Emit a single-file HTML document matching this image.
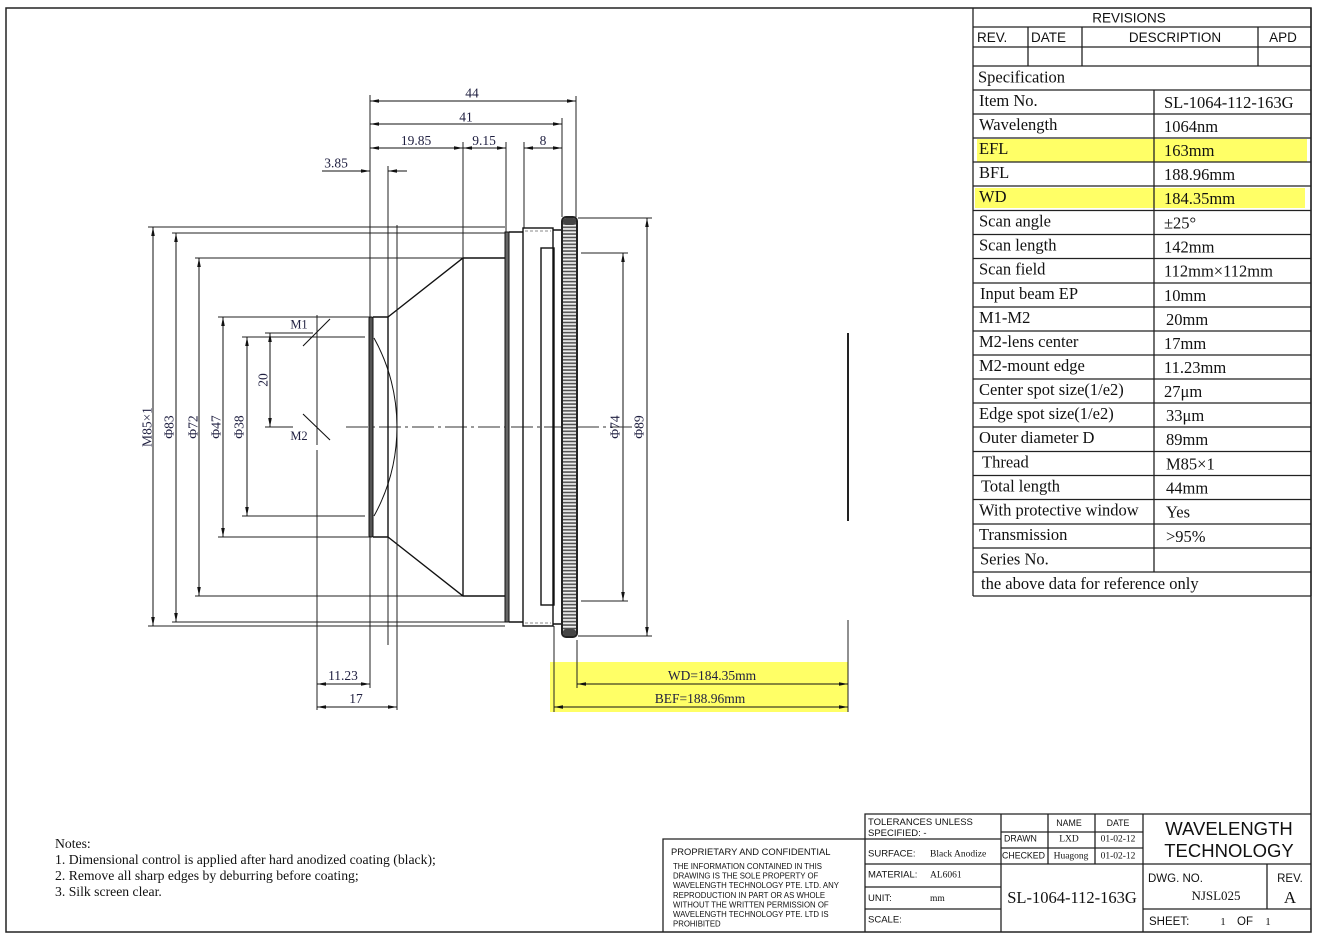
<!DOCTYPE html>
<html><head><meta charset="utf-8"><style>
html,body{margin:0;padding:0;background:#fff;}
svg{display:block;}
.s{font-family:"Liberation Serif",serif;}
.a{font-family:"Liberation Sans",sans-serif;}
</style></head><body>
<svg width="1319" height="940" viewBox="0 0 1319 940" xmlns="http://www.w3.org/2000/svg">
<defs>
<marker id="ar" viewBox="0 0 10 4" refX="10" refY="2" markerWidth="9" markerHeight="4" markerUnits="userSpaceOnUse" orient="auto-start-reverse"><path d="M0,0L10,2L0,4z" fill="#111"/></marker>
<pattern id="kn" x="0" y="217" width="15" height="3.4" patternUnits="userSpaceOnUse"><rect width="15" height="3.4" fill="#4a4a4a"/><rect x="0" y="0.8" width="15" height="1.9" fill="#eeeeee"/></pattern>
</defs>
<rect width="1319" height="940" fill="#fff"/>

<!-- yellow highlights -->
<rect x="977" y="139" width="330" height="23" fill="#ffff66"/>
<rect x="975" y="188" width="330" height="20" fill="#ffff66"/>
<rect x="550" y="662" width="298" height="50" fill="#ffff66"/>

<!-- frame -->
<rect x="6" y="8" width="1305" height="924" fill="none" stroke="#222" stroke-width="1.5"/>

<!-- revisions + spec table lines -->
<g stroke="#222" stroke-width="1.3" fill="none">
<path d="M973,8V596M1311,8V596"/>
<path d="M973,27H1311M973,47H1311M973,66H1311"/>
<path d="M1028,27V66M1082,27V66M1258,27V66"/>
<path d="M973,90H1311M973,114H1311M973,138H1311M973,162H1311M973,186H1311M973,210.5H1311M973,234.5H1311M973,258.5H1311M973,283H1311M973,307H1311M973,331H1311M973,355H1311M973,379H1311M973,403H1311M973,427H1311M973,451.5H1311M973,475.5H1311M973,499.5H1311M973,524H1311M973,548H1311M973,572H1311M973,596H1311"/>
<path d="M1154,90V572"/>
</g>
<g class="a" font-size="13.5" fill="#111">
<text x="1129" y="22.5" text-anchor="middle">REVISIONS</text>
<text x="977" y="42">REV.</text>
<text x="1031" y="42">DATE</text>
<text x="1175" y="42" text-anchor="middle">DESCRIPTION</text>
<text x="1283" y="42" text-anchor="middle">APD</text>
</g>
<g class="s" font-size="16.5" fill="#111">
<text x="978" y="82.5">Specification</text>
<text x="979" y="106">Item No.</text><text x="1164" y="108">SL-1064-112-163G</text>
<text x="979" y="130">Wavelength</text><text x="1164" y="132">1064nm</text>
<text x="979" y="154">EFL</text><text x="1164" y="156">163mm</text>
<text x="979" y="178">BFL</text><text x="1164" y="180">188.96mm</text>
<text x="979" y="202">WD</text><text x="1164" y="204">184.35mm</text>
<text x="979" y="226.5">Scan angle</text><text x="1164" y="228.5">±25°</text>
<text x="979" y="250.5">Scan length</text><text x="1164" y="252.5">142mm</text>
<text x="979" y="274.5">Scan field</text><text x="1164" y="276.5">112mm×112mm</text>
<text x="980" y="299">Input beam EP</text><text x="1164" y="301">10mm</text>
<text x="979" y="323">M1-M2</text><text x="1166" y="325">20mm</text>
<text x="979" y="347">M2-lens center</text><text x="1164" y="349">17mm</text>
<text x="979" y="371">M2-mount edge</text><text x="1164" y="373">11.23mm</text>
<text x="979" y="395">Center spot size(1/e2)</text><text x="1164" y="397">27μm</text>
<text x="979" y="419">Edge spot size(1/e2)</text><text x="1166" y="421">33μm</text>
<text x="979" y="443">Outer diameter D</text><text x="1166" y="445">89mm</text>
<text x="982" y="467.5">Thread</text><text x="1166" y="469.5">M85×1</text>
<text x="981" y="491.5">Total length</text><text x="1166" y="493.5">44mm</text>
<text x="979" y="515.5">With protective window</text><text x="1166" y="517.5">Yes</text>
<text x="979" y="540">Transmission</text><text x="1166" y="542">&gt;95%</text>
<text x="980" y="564.5">Series No.</text>
<text x="981" y="589">the above data for reference only</text>
</g>

<!-- ===== drawing ===== -->
<g stroke="#222" stroke-width="1" fill="none">
<path d="M370,95V688"/>
<path d="M576,96V217M562,118V217M463,142V258M506,142V232M524,142V228"/>
<path d="M388,166V645M397,225V710"/>
<path d="M317,315V445M317,450V710"/>
<path d="M148,227H505M172,233H505M195,258H506M218,317H370M242,337H365M265,333H313M265,427H293"/>
<path d="M242,516H365M218,537H370M195,596H506M172,622H505M148,626H505"/>
<path d="M578,218H652M578,636H652M581,253H628M581,601H628"/>
<path d="M554,626V712M577,640V688M848,620V712"/>
</g>

<g stroke="#111" stroke-width="1" fill="none" marker-start="url(#ar)" marker-end="url(#ar)">
<path d="M370,101H576"/>
<path d="M370,124H562"/>
<path d="M370,148H463"/>
<path d="M463,148H506"/>
<path d="M524,148H562"/>
<path d="M153,227V626"/>
<path d="M176,233V622"/>
<path d="M199,258V596"/>
<path d="M223,317V537"/>
<path d="M247,337V516"/>
<path d="M270,333V427"/>
<path d="M647,218V636"/>
<path d="M623,253V601"/>
<path d="M317,684H370"/>
<path d="M317,707H397"/>
<path d="M577,684H848"/>
<path d="M554,707H848"/>
</g>
<g stroke="#111" stroke-width="1" fill="none" marker-end="url(#ar)">
<path d="M322,171H370"/>
<path d="M407,171H388"/>
</g>

<path d="M346,427H640" stroke="#333" stroke-width="1" stroke-dasharray="22 4 3 4" fill="none"/>

<g stroke="#111" stroke-width="1.1">
<path d="M303,346L330,319"/>
<path d="M303,414L330,440"/>
</g>

<g stroke="#111" stroke-width="1.4" fill="none">
<path d="M373,317H388V537H373"/>
<path d="M388,317L463,258H506M388,537L463,596H506"/>
<path d="M463,258V596"/>
<path d="M374,338A184,184 0 0 1 374,516" stroke-width="1"/>
<path d="M509,232H523M509,622H523"/>
<rect x="523" y="228" width="30" height="398"/>
<path d="M553,230H562M553,624H562"/>
<rect x="541" y="248" width="13" height="357"/>
</g>
<rect x="369" y="317" width="4" height="220" rx="1.5" fill="#555" stroke="#111" stroke-width="1"/>
<rect x="505" y="232" width="4" height="390" fill="#666" stroke="#111" stroke-width="1"/>
<path d="M525,231H551M525,623H551" stroke="#888" stroke-width="1" stroke-dasharray="3 2"/>
<rect x="562" y="217" width="15" height="420" rx="4" fill="url(#kn)" stroke="#222" stroke-width="2"/>
<rect x="563" y="218" width="13" height="7" rx="3" fill="#444"/>
<rect x="563" y="629" width="13" height="7" rx="3" fill="#444"/>

<path d="M848,333V521" stroke="#222" stroke-width="2"/>

<g class="s" font-size="13.5" fill="#1f1f40">
<text x="472" y="97.5" text-anchor="middle">44</text>
<text x="466" y="121.5" text-anchor="middle">41</text>
<text x="416" y="145" text-anchor="middle">19.85</text>
<text x="484" y="145" text-anchor="middle">9.15</text>
<text x="543" y="145" text-anchor="middle">8</text>
<text x="336" y="167.5" text-anchor="middle">3.85</text>
<text x="299" y="328.5" text-anchor="middle" font-size="12.5">M1</text>
<text x="299" y="440" text-anchor="middle" font-size="12.5">M2</text>
<text x="343" y="680" text-anchor="middle">11.23</text>
<text x="356" y="703" text-anchor="middle">17</text>
<text x="712" y="680" text-anchor="middle">WD=184.35mm</text>
<text x="700" y="703" text-anchor="middle">BEF=188.96mm</text>
<text transform="translate(147,427) rotate(-90)" text-anchor="middle" dominant-baseline="central">M85×1</text>
<text transform="translate(169,427) rotate(-90)" text-anchor="middle" dominant-baseline="central">Φ83</text>
<text transform="translate(193,427) rotate(-90)" text-anchor="middle" dominant-baseline="central">Φ72</text>
<text transform="translate(216,427) rotate(-90)" text-anchor="middle" dominant-baseline="central">Φ47</text>
<text transform="translate(239,427) rotate(-90)" text-anchor="middle" dominant-baseline="central">Φ38</text>
<text transform="translate(263,380) rotate(-90)" text-anchor="middle" dominant-baseline="central">20</text>
<text transform="translate(615,427) rotate(-90)" text-anchor="middle" dominant-baseline="central">Φ74</text>
<text transform="translate(639,427) rotate(-90)" text-anchor="middle" dominant-baseline="central">Φ89</text>
</g>

<g class="s" font-size="13.7" fill="#111">
<text x="55" y="848">Notes:</text>
<text x="55" y="864">1. Dimensional control is applied after hard anodized coating (black);</text>
<text x="55" y="880">2. Remove all sharp edges by deburring before coating;</text>
<text x="55" y="896">3. Silk screen clear.</text>
</g>

<g stroke="#222" stroke-width="1.3" fill="none">
<path d="M663,932V839H865"/>
<path d="M865,932V814H1311"/>
<path d="M865,839H1001M865,864H1311M865,887H1001M865,909H1001"/>
<path d="M1001,814V932"/>
<path d="M1048,814V864M1095,814V864M1001,832H1143M1001,848H1143"/>
<path d="M1143,814V932"/>
<path d="M1267,864V909M1143,909H1311"/>
</g>
<g class="a" fill="#111">
<text x="671" y="855" font-size="9.4">PROPRIETARY AND CONFIDENTIAL</text>
<g font-size="7.8">
<text x="673" y="869">THE INFORMATION CONTAINED IN THIS</text>
<text x="673" y="878.5">DRAWING IS THE SOLE PROPERTY OF</text>
<text x="673" y="888">WAVELENGTH TECHNOLOGY PTE. LTD. ANY</text>
<text x="673" y="898">REPRODUCTION IN PART OR AS WHOLE</text>
<text x="673" y="907.5">WITHOUT THE WRITTEN PERMISSION OF</text>
<text x="673" y="917">WAVELENGTH TECHNOLOGY PTE. LTD IS</text>
<text x="673" y="926.5">PROHIBITED</text>
</g>
<g font-size="9.5">
<text x="868" y="825">TOLERANCES UNLESS</text>
<text x="868" y="836">SPECIFIED:  -</text>
<text x="868" y="856.5">SURFACE:</text>
<text x="868" y="877.5">MATERIAL:</text>
<text x="868" y="901">UNIT:</text>
<text x="868" y="922.5">SCALE:</text>
</g>
<g font-size="8.8">
<text x="1069" y="826" text-anchor="middle">NAME</text>
<text x="1118" y="826" text-anchor="middle">DATE</text>
<text x="1004" y="841.5">DRAWN</text>
<text x="1002" y="858.5">CHECKED</text>
</g>
<text x="1229" y="835" font-size="18.5" text-anchor="middle">WAVELENGTH</text>
<text x="1229" y="857" font-size="18.5" text-anchor="middle">TECHNOLOGY</text>
<text x="1148" y="882" font-size="11.5">DWG. NO.</text>
<text x="1290" y="882" font-size="11.5" text-anchor="middle">REV.</text>
<text x="1149" y="925" font-size="11.5">SHEET:</text>
<text x="1245" y="925" font-size="11.5" text-anchor="middle">OF</text>
</g>
<g class="s" fill="#111">
<text x="930" y="856.5" font-size="9.5">Black Anodize</text>
<text x="930" y="877.5" font-size="9.5">AL6061</text>
<text x="930" y="901" font-size="9.5">mm</text>
<text x="1069" y="841.5" font-size="9.5" text-anchor="middle">LXD</text>
<text x="1118" y="841.5" font-size="9.5" text-anchor="middle">01-02-12</text>
<text x="1071" y="858.5" font-size="9.5" text-anchor="middle">Huagong</text>
<text x="1118" y="858.5" font-size="9.5" text-anchor="middle">01-02-12</text>
<text x="1072" y="903" font-size="16.5" text-anchor="middle">SL-1064-112-163G</text>
<text x="1216" y="900" font-size="13" text-anchor="middle">NJSL025</text>
<text x="1290" y="903" font-size="17" text-anchor="middle">A</text>
<text x="1223" y="925" font-size="11" text-anchor="middle">1</text>
<text x="1268" y="925" font-size="11" text-anchor="middle">1</text>
</g>
</svg>
</body></html>
